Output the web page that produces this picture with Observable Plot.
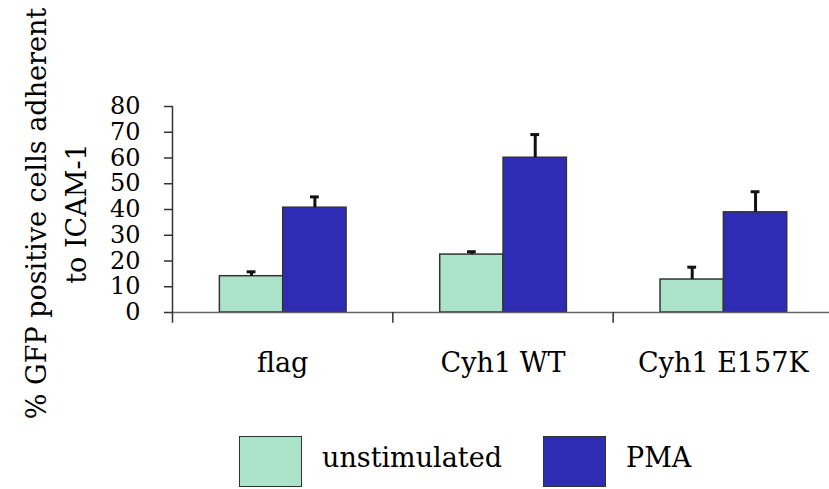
<!DOCTYPE html>
<html><head><meta charset="utf-8">
<script src="https://cdn.jsdelivr.net/npm/d3@7"></script>
<script src="https://cdn.jsdelivr.net/npm/@observablehq/plot@0.6"></script>
<style>
body{margin:0;background:#fff;font-family:"DejaVu Serif",serif;}
#chart svg{display:block;}
#legend{position:relative;width:829px;height:59px;color:#000;}
#legend .sw{position:absolute;top:6px;width:61px;height:49px;border:1.5px solid #333;}
#legend .lb{position:absolute;top:14px;font-size:27px;line-height:1;}
</style></head><body>
<div id="chart"></div>
<div id="legend"></div>
<script>
const categories = ["flag", "Cyh1 WT", "Cyh1 E157K"];
const series = ["unstimulated", "PMA"];
const unstimulated = [14.1, 22.5, 12.8];
const unstimulatedErr = [1.7, 1.1, 4.8];
const pma = [40.7, 60.1, 38.9];
const pmaErr = [4.2, 9.0, 8.0];
const yTicks = [0, 10, 20, 30, 40, 50, 60, 70, 80];
const colors = ["#abe3ca", "#2e2cb4"];
const yTitle = "% GFP positive cells adherent\nto ICAM-1";

const rows = categories.flatMap((c, i) => [
  {cat: c, i, s: series[0], k: 0, v: unstimulated[i], e: unstimulatedErr[i]},
  {cat: c, i, s: series[1], k: 1, v: pma[i], e: pmaErr[i]}
]);
const bw = 0.2875, off = 0.215;
const x1 = d => d.i + off + d.k * bw;
const x2 = d => d.i + off + (d.k + 1) * bw;
const xc = d => d.i + off + (d.k + 0.5) * bw;

const plot = Plot.plot({
  width: 829,
  height: 430,
  marginTop: 106,
  marginBottom: 118,
  marginLeft: 172,
  marginRight: -4,
  style: {fontFamily: "DejaVu Serif", color: "#000", background: "#fff"},
  x: {domain: [0, 3]},
  y: {domain: [0, 80]},
  color: {domain: series, range: colors},
  marks: [
    Plot.rectY(rows, {x1, x2, y1: 0, y2: "v", fill: "s", stroke: "#333", strokeWidth: 1.5}),
    Plot.ruleY([0], {stroke: "#666", strokeWidth: 1.5}),
    Plot.ruleX(rows, {x: xc, y1: "v", y2: d => d.v + d.e, stroke: "#111", strokeWidth: 3}),
    Plot.ruleY(rows, {y: d => d.v + d.e, x1: d => xc(d) - 0.02, x2: d => xc(d) + 0.02, stroke: "#111", strokeWidth: 3}),
    Plot.ruleX([0], {y1: -4.2, y2: 80, stroke: "#333", strokeWidth: 1.5}),
    Plot.ruleX([1, 2, 3], {y1: -4.2, y2: 0, stroke: "#333", strokeWidth: 1.5}),
    Plot.axisY({ticks: yTicks, tickSize: 8, tickPadding: 24, fontSize: 24, label: null, stroke: "#333", strokeWidth: 1.5}),
    Plot.axisX({ticks: [0.5, 1.5, 2.5], tickFormat: t => categories[Math.floor(t)], tickSize: 0, tickPadding: 40, fontSize: 27, label: null}),
    Plot.text([yTitle], {frameAnchor: "left", textAnchor: "middle", lineAnchor: "middle", rotate: -90, dx: -119, dy: 4, fontSize: 27, lineHeight: 1.45, fill: "#000"})
  ]
});
document.getElementById("chart").append(plot);

const leg = document.getElementById("legend");
const legendPos = [[239, 322], [543, 626]];
series.forEach((s, j) => {
  const sw = document.createElement("div");
  sw.className = "sw"; sw.style.left = legendPos[j][0] + "px"; sw.style.background = colors[j];
  const lb = document.createElement("div");
  lb.className = "lb"; lb.style.left = legendPos[j][1] + "px"; lb.textContent = s;
  leg.append(sw, lb);
});
</script>
</body></html>
